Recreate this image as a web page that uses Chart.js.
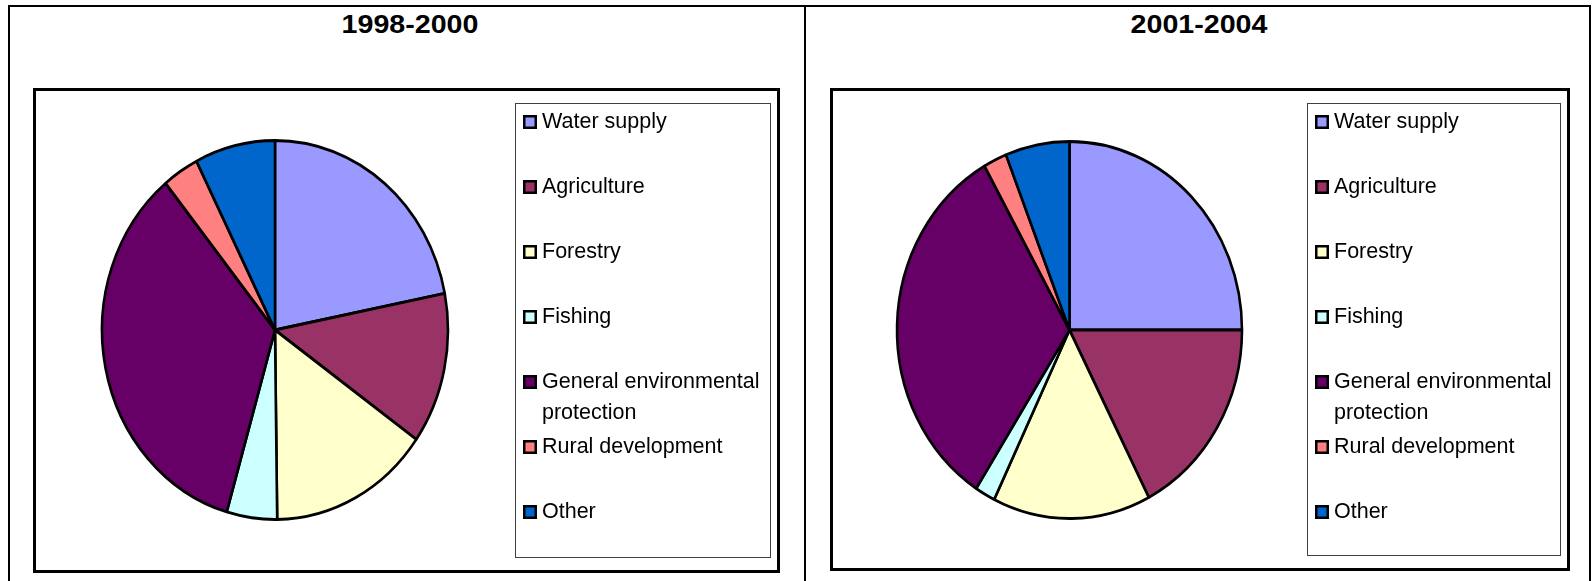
<!DOCTYPE html>
<html><head><meta charset="utf-8">
<script src="https://cdn.jsdelivr.net/npm/chart.js@4.4.1/dist/chart.umd.min.js"></script>
<style>
html,body{margin:0;padding:0;background:#fff;}
body{width:1592px;height:581px;position:relative;overflow:hidden;font-family:"Liberation Sans",Arial,sans-serif;}
.line{position:absolute;background:#000;}
.title{position:absolute;top:11px;width:300px;text-align:center;font-weight:bold;font-size:26px;line-height:26px;transform:scaleX(1.1);color:#000;}
.frame{position:absolute;border:3px solid #000;box-sizing:border-box;}
.frame canvas{display:block;}
</style></head>
<body>
<div class="line" style="left:8px;top:5px;width:1583px;height:2px"></div>
<div class="line" style="left:8px;top:5px;width:2px;height:600px"></div>
<div class="line" style="left:804px;top:5px;width:2px;height:600px"></div>
<div class="line" style="left:1589px;top:5px;width:2px;height:600px"></div>
<div class="title" id="t1" style="left:260px"></div>
<div class="title" id="t2" style="left:1049px"></div>
<div class="frame" style="left:33px;top:88px;width:747px;height:485px"><canvas id="c1" width="741" height="479"></canvas></div>
<div class="frame" style="left:830px;top:88px;width:740px;height:483px"><canvas id="c2" width="734" height="477"></canvas></div>
<script>
const categories = ["Water supply","Agriculture","Forestry","Fishing","General environmental protection","Rural development","Other"];
const periodTitles = ["1998-2000","2001-2004"];
const shares1998_2000 = [21.9, 12.9, 15.0, 4.7, 34.6, 3.4, 7.5];
const shares2001_2004 = [25.0, 17.4, 14.8, 1.9, 32.7, 2.2, 6.0];
const sliceColors = ["#9999FF","#993366","#FFFFCC","#CCFFFF","#660066","#FF8080","#0066CC"];

document.getElementById('t1').textContent = periodTitles[0];
document.getElementById('t2').textContent = periodTitles[1];

const ellipsePlugin = sy => ({
  id: 'ellipse',
  beforeDatasetsDraw(chart) {
    const a = chart.getDatasetMeta(0).data[0];
    const cx = a.x, cy = a.y, c = chart.ctx;
    c.save();
    c.translate(cx, cy); c.scale(1, sy); c.translate(-cx, -cy);
  },
  afterDatasetsDraw(chart) { chart.ctx.restore(); }
});

const legendBox = box => ({
  id: 'boxLegend',
  afterDraw(chart) {
    const c = chart.ctx;
    const ds = chart.data.datasets[0];
    c.save();
    c.strokeStyle = '#404040'; c.lineWidth = 1;
    c.strokeRect(box.x + 0.5, box.y + 0.5, box.w - 1, box.h - 1);
    c.font = '21.5px "Liberation Sans", Arial, sans-serif';
    c.textBaseline = 'middle';
    const maxW = box.w - 27 - 6;
    chart.data.labels.forEach((lab, i) => {
      const y = box.y + 19 + 65 * i;
      c.fillStyle = ds.backgroundColor[i];
      c.fillRect(box.x + 8, y - 7, 14, 14);
      c.strokeStyle = '#000'; c.lineWidth = 2.5;
      c.strokeRect(box.x + 9.25, y - 5.75, 11.5, 11.5);
      const words = lab.split(' ');
      const lines = [];
      let cur = '';
      words.forEach(w => {
        const t = cur ? cur + ' ' + w : w;
        if (cur && c.measureText(t).width > maxW) { lines.push(cur); cur = w; } else { cur = t; }
      });
      if (cur) lines.push(cur);
      c.fillStyle = '#000';
      lines.forEach((ln, k) => c.fillText(ln, box.x + 27, y + k * 31));
    });
    c.restore();
  }
});

function makeChart(id, values, o) {
  return new Chart(document.getElementById(id), {
    type: 'pie',
    data: {
      labels: categories,
      datasets: [{ data: values, backgroundColor: sliceColors, borderColor: '#000', borderWidth: 2.6, radius: o.r, clip: false }]
    },
    options: {
      responsive: false, animation: false, events: [],
      layout: { padding: o.pad },
      plugins: { legend: { display: false }, title: { display: false }, tooltip: { enabled: false } }
    },
    plugins: [ellipsePlugin(o.sy), legendBox(o.box)]
  });
}

makeChart('c1', shares1998_2000, {
  r: 173, sy: 189.5 / 173,
  pad: { left: 0, top: 0, right: 263, bottom: 1 },
  box: { x: 479, y: 12, w: 256, h: 455 }
});
makeChart('c2', shares2001_2004, {
  r: 172.5, sy: 188.5 / 172.5,
  pad: { left: 0, top: 1, right: 261, bottom: 0 },
  box: { x: 474, y: 12, w: 254, h: 453 }
});
</script>
</body></html>
